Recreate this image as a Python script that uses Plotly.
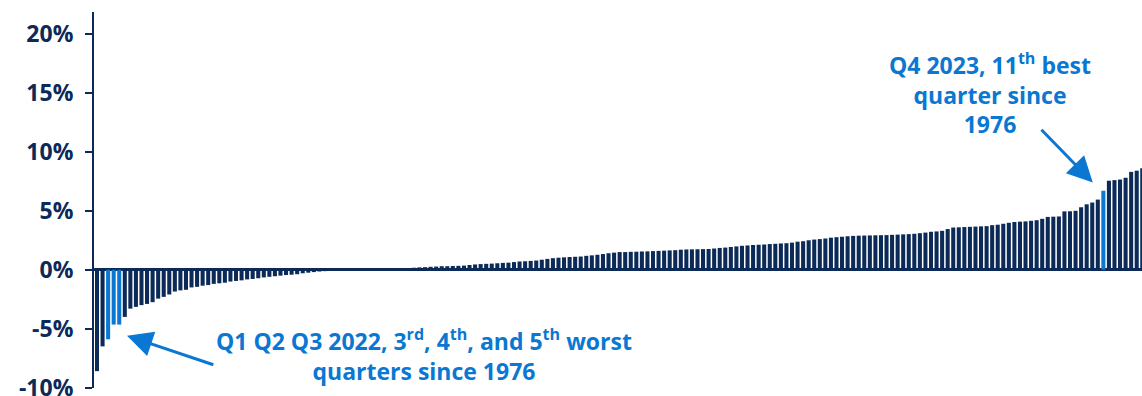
import plotly.graph_objects as go

# Quarterly returns since 1976, sorted ascending (%)
negative_returns = [-8.6, -6.5, -5.9, -4.65, -4.65, -4.0, -3.3, -3.15, -3.0, -2.9,
                    -2.75, -2.45, -2.3, -2.1, -1.85, -1.75, -1.7, -1.5, -1.45, -1.35,
                    -1.3, -1.2, -1.15, -1.1, -1.0, -0.95, -0.9, -0.82, -0.78, -0.72,
                    -0.65, -0.6, -0.55, -0.5, -0.45, -0.42, -0.38, -0.3, -0.25, -0.2,
                    -0.15, -0.12, -0.08, -0.05, -0.03]
flat_returns = [0.01, 0.02, 0.02, 0.03, 0.03, 0.04, 0.05, 0.07]
positive_returns = [0.1, 0.12, 0.13, 0.15, 0.17, 0.2, 0.22, 0.25, 0.27, 0.3,
                    0.3, 0.32, 0.33, 0.35, 0.4, 0.45, 0.48, 0.5, 0.52, 0.55,
                    0.58, 0.6, 0.65, 0.7, 0.72, 0.75, 0.78, 0.85, 0.92, 0.98,
                    1.02, 1.05, 1.08, 1.1, 1.12, 1.18, 1.22, 1.27, 1.33, 1.4,
                    1.45, 1.5, 1.5, 1.52, 1.53, 1.55, 1.56, 1.58, 1.6, 1.62,
                    1.64, 1.66, 1.7, 1.72, 1.73, 1.74, 1.75, 1.76, 1.8, 1.85,
                    1.88, 1.93, 1.98, 2.03, 2.06, 2.1, 2.12, 2.14, 2.18, 2.2,
                    2.23, 2.25, 2.3, 2.38, 2.42, 2.5, 2.56, 2.6, 2.65, 2.72,
                    2.76, 2.8, 2.84, 2.87, 2.89, 2.9, 2.91, 2.92, 2.93, 2.94,
                    2.96, 2.98, 3.0, 3.02, 3.05, 3.1, 3.15, 3.22, 3.25, 3.3,
                    3.45, 3.58, 3.6, 3.62, 3.64, 3.66, 3.68, 3.7, 3.78, 3.82,
                    3.9, 3.98, 4.05, 4.08, 4.1, 4.15, 4.2, 4.32, 4.48, 4.5,
                    4.52, 4.95, 4.96, 5.0, 5.3, 5.55, 5.7, 5.95, 6.7, 7.55,
                    7.6, 7.65, 7.8, 8.3, 8.4, 8.6, 9.0, 9.6, 10.8]

returns = negative_returns + flat_returns + positive_returns
ranks = list(range(len(returns)))

# highlighted quarters: 3rd, 4th, 5th worst and 11th best
highlight_ranks = [2, 3, 4, len(returns) - 11]

y_tick_values = [-10, -5, 0, 5, 10, 15, 20]
y_tick_labels = ["-10%", "-5%", "0%", "5%", "10%", "15%", "20%"]

NAVY = "#0b2a57"
BLUE = "#0a77d2"
FONT = "Open Sans"

colors = [BLUE if r in highlight_ranks else NAVY for r in ranks]

fig = go.Figure(go.Bar(x=ranks, y=returns, marker=dict(color=colors, line=dict(width=0)),
                       hoverinfo="skip"))

fig.update_layout(
    width=1142, height=396,
    margin=dict(l=94, r=0, t=12, b=8, autoexpand=False),
    paper_bgcolor="white", plot_bgcolor="white",
    bargap=0.27,
    showlegend=False,
    xaxis=dict(range=[-0.54, 187.95], visible=False, showgrid=False, zeroline=False,
               automargin=False),
    yaxis=dict(range=[-10.03, 21.86], tickvals=y_tick_values, ticktext=y_tick_labels,
               automargin=False,
               showgrid=False, zeroline=True, zerolinecolor=NAVY, zerolinewidth=2.5,
               showline=True, linecolor=NAVY, linewidth=2,
               ticks="outside", ticklen=7, tickwidth=2, tickcolor=NAVY,
               ticklabelstandoff=7, ticklabeloverflow="allow",
               tickfont=dict(family=FONT, size=23, color=NAVY, weight="bold")),
)

ann_font = dict(family=FONT, size=23, color=BLUE, weight="bold")
fig.add_annotation(x=58.8, y=-7.25, xref="x", yref="y", showarrow=False,
                   text="Q1 Q2 Q3 2022, 3<sup>rd</sup>, 4<sup>th</sup>, and 5<sup>th</sup> worst<br>quarters since 1976",
                   font=ann_font, align="center")
fig.add_annotation(x=160.6, y=14.95, xref="x", yref="y", showarrow=False,
                   text="Q4 2023, 11<sup>th</sup> best<br>quarter since<br>1976",
                   font=ann_font, align="center")
# arrows
fig.add_annotation(x=5.4, y=-5.6, ax=21.2, ay=-8.1, xref="x", yref="y", axref="x", ayref="y",
                   text="", showarrow=True, arrowhead=2, arrowsize=1.7, arrowwidth=3,
                   arrowcolor=BLUE)
fig.add_annotation(x=179.1, y=7.4, ax=169.6, ay=12.0, xref="x", yref="y", axref="x", ayref="y",
                   text="", showarrow=True, arrowhead=2, arrowsize=1.7, arrowwidth=3,
                   arrowcolor=BLUE)

fig.write_html("out.html")
